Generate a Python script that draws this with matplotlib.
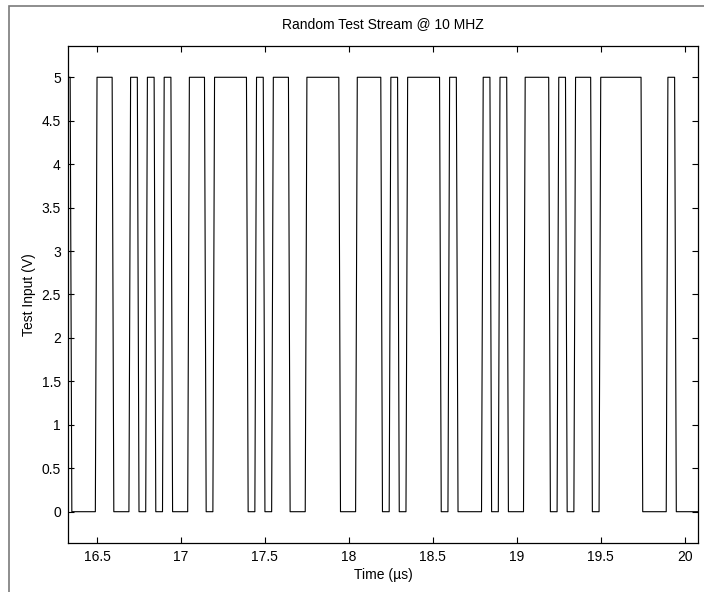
import matplotlib
matplotlib.use("Agg")
import matplotlib.pyplot as plt
from matplotlib.patches import Rectangle

# bit stream (one bit every 0.05 us, starting at 16.30 us)
t_start = 16.30
bit_period = 0.05
edge_time = 0.01
v_high = 5.0
bits = [1, 0, 0, 0, 1, 1, 0, 0, 1, 0, 1, 0, 1, 0, 0, 1, 1, 0, 1, 1,
        1, 1, 0, 1, 0, 1, 1, 0, 0, 1, 1, 1, 1, 0, 0, 1, 1, 1, 0, 1,
        0, 1, 1, 1, 1, 0, 1, 0, 0, 0, 1, 0, 1, 0, 0, 1, 1, 1, 0, 1,
        0, 1, 1, 0, 1, 1, 1, 1, 1, 0, 0, 0, 1, 0, 0, 0]

x_ticks = [16.5, 17, 17.5, 18, 18.5, 19, 19.5, 20]
x_labels = ["16.5", "17", "17.5", "18", "18.5", "19", "19.5", "20"]
y_ticks = [0, 0.5, 1, 1.5, 2, 2.5, 3, 3.5, 4, 4.5, 5]
y_labels = ["0", "0.5", "1", "1.5", "2", "2.5", "3", "3.5", "4", "4.5", "5"]

# each bit holds its level, then ramps to the next over edge_time
t, v = [], []
for i, b in enumerate(bits):
    t0 = t_start + i * bit_period
    t.append(t0)
    v.append(b * v_high)
    t.append(t0 + bit_period - edge_time)
    v.append(b * v_high)

plt.rcParams["font.family"] = ["Liberation Sans", "DejaVu Sans"]
plt.rcParams["font.size"] = 10

fig = plt.figure(figsize=(7.04, 5.92), dpi=100)
ax = fig.add_axes([0.0962, 0.0828, 0.8957, 0.8395])

ax.plot(t, v, color="black", linewidth=0.8)

ax.set_xlim(16.3255, 20.081)
ax.set_ylim(-0.36, 5.36)
ax.set_xticks(x_ticks)
ax.set_xticklabels(x_labels)
ax.set_yticks(y_ticks)
ax.set_yticklabels(y_labels)
ax.tick_params(direction="in", length=4.5, width=0.8, top=True, right=True,
               pad=5)
for s in ax.spines.values():
    s.set_linewidth(0.9)

ax.set_title("Random Test Stream @ 10 MHZ", fontsize=10, pad=13)
ax.set_xlabel("Time (\u00b5s)", labelpad=3)
ax.set_ylabel("Test Input (V)", labelpad=4)

# gray frame of the original figure window
fig.add_artist(Rectangle((9.3 / 704, -0.1), 1.2, 1.1 - 5.7 / 592,
                         transform=fig.transFigure, fill=False,
                         edgecolor="#7a7a7a", linewidth=1.2))

fig.savefig("out.png", dpi=100)
